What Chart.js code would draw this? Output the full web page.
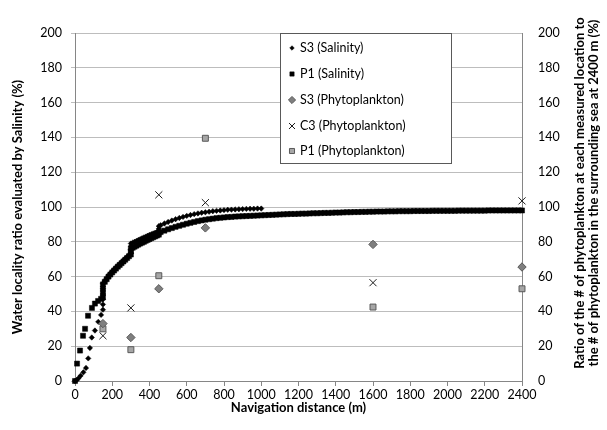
<!DOCTYPE html>
<html><head><meta charset="utf-8">
<style>html,body{margin:0;padding:0;background:#fff}#wrap{width:607px;height:430px}</style>
<script src="https://cdn.jsdelivr.net/npm/chart.js"></script>
</head><body><div id="wrap"><canvas id="c" width="607" height="430"></canvas></div>
<script>
// ---- data ----
const salS3X = [0,9,18,30,45,59,71,80,90,107,125,140,150,150,150,150,150,150,
  160,170,180,190,200,210,220,230,240,250,260,270,280,290,300,300,300,300,
  310,320,330,340,350,360,370,380,390,400,410,420,430,440,450,450,450,
  460,480,500,520,540,560,580,600,620,640,660,680,700,720,740,760,780,800,
  820,840,860,880,900,920,940,960,980,1000];
const salS3Y = [0,0.5,1.5,3,5,7.5,13,19,25,29,34,38,41,44,47,50,53,56,
  57.5,59,60.5,61.8,63,64.1,65.2,66.3,67.3,68.3,69.3,70.3,71.3,72.3,73.3,75.5,77.5,79,
  79.5,80,80.5,81,81.5,82,82.5,83,83.5,84,84.4,84.8,85.2,85.6,86,87.5,89,
  89.5,90.5,91.4,92.2,93,93.7,94.3,94.9,95.4,95.9,96.3,96.7,97,97.3,97.6,97.8,98,98.2,
  98.4,98.5,98.6,98.7,98.8,98.9,99,99,99.1,99.1];

const salP1X = [0,11,27,43,54,70,91,107,124,140,150,150,150,150,
  160,170,180,190,200,210,220,230,240,250,260,270,280,290,300,300,300,
  310,320,330,340,350,360,370,380,390,400,410,420,430,440,450,450,
  460,480,500,520,540,560,580,600,620,640,660,680,700,720,740,760,780,800,
  820,840,860,880,900,920,940,960,980,1000,
  1020,1040,1060,1080,1100,1120,1140,1160,1180,1200,1220,1240,1260,1280,1300,
  1320,1340,1360,1380,1400,1420,1440,1460,1480,1500,1520,1540,1560,1580,1600,
  1620,1640,1660,1680,1700,1720,1740,1760,1780,1800,1820,1840,1860,1880,1900,
  1920,1940,1960,1980,2000,2020,2040,2060,2080,2100,2120,2140,2160,2180,2200,
  2220,2240,2260,2280,2300,2320,2340,2360,2380,2400];
const salP1Y = [0,10,17.5,26,30,37.5,42,44.5,46,47.2,48,50.5,53,55.5,
  57,58.5,60,61.2,62.4,63.5,64.6,65.7,66.7,67.7,68.7,69.7,70.7,71.7,72.7,74.5,76,
  76.6,77.2,77.8,78.4,79,79.5,80,80.6,81.1,81.6,82.1,82.6,83.1,83.6,84.1,85.2,
  85.6,86.4,87.2,87.9,88.6,89.2,89.8,90.4,90.9,91.4,91.9,92.3,92.7,93,93.3,93.6,93.8,94,
  94.2,94.3,94.5,94.6,94.7,94.8,94.9,95,95.1,95.2,
  95.3,95.4,95.5,95.6,95.7,95.8,95.9,96,96,96.1,96.2,96.2,96.3,96.4,96.4,
  96.5,96.6,96.6,96.7,96.8,96.8,96.9,97,97,97.1,97.1,97.2,97.2,97.3,97.3,
  97.4,97.4,97.4,97.5,97.5,97.5,97.6,97.6,97.6,97.6,97.7,97.7,97.7,97.7,97.7,
  97.8,97.8,97.8,97.8,97.8,97.8,97.8,97.9,97.9,97.9,97.9,97.9,97.9,97.9,97.9,
  98,98,98,98,98,98,98,98,98,98];

const phytoX  = [150, 300, 450, 700, 1600, 2400];
const phytoS3 = [33, 25, 53, 88, 78.5, 65.5];
const phytoC3 = [26, 42, 107, 102.5, 56.5, 103.5];
const phytoP1 = [30, 18, 60.5, 139.5, 42.5, 53];

const seriesNames = ['S3 (Salinity)', 'P1 (Salinity)', 'S3 (Phytoplankton)', 'C3 (Phytoplankton)', 'P1 (Phytoplankton)'];
const xTickValues = [0,200,400,600,800,1000,1200,1400,1600,1800,2000,2200,2400];
const yTickValues = [0,20,40,60,80,100,120,140,160,180,200];
const leftTitle = 'Water locality ratio evaluated by Salinity (%)';
const rightTitle = ['Ratio of the # of phytoplankton at each measured location to',
                    'the # of phytoplankton in the surrounding sea at 2400 m (%)'];
const bottomTitle = 'Navigation distance (m)';

// ---- build ----
const FONT = 'Lato, "Open Sans", sans-serif';
const pts = (xs, ys) => xs.map((x, i) => ({x, y: ys[i]}));

const styles = [
  {pointStyle:'rectRot', radius:2.7, bg:'#000', bc:'#000', bw:0.5},
  {pointStyle:'rect', radius:3.6, bg:'#000', bc:'#000', bw:0.5},
  {pointStyle:'rectRot', radius:4.2, bg:'#7f7f7f', bc:'#595959', bw:1},
  {pointStyle:'crossRot', radius:5, bg:'#000', bc:'#1a1a1a', bw:1},
  {pointStyle:'rect', radius:4.2, bg:'#a6a6a6', bc:'#595959', bw:1}
];
const dataSets = [pts(salS3X, salS3Y), pts(salP1X, salP1Y), pts(phytoX, phytoS3), pts(phytoX, phytoC3), pts(phytoX, phytoP1)];
const axisIds = ['y','y','y2','y2','y2'];
const orders = [2,1,0,0,0];

const datasets = dataSets.map((d, i) => ({
  label: seriesNames[i], data: d, yAxisID: axisIds[i], showLine:false, clip:false, order: orders[i],
  pointStyle: styles[i].pointStyle, pointRadius: styles[i].radius, pointHoverRadius: styles[i].radius,
  backgroundColor: styles[i].bg, borderColor: styles[i].bc, pointBorderWidth: styles[i].bw
}));

const legendBox = {
  id:'legendBox',
  afterDraw(chart){
    const ctx = chart.ctx;
    const x0 = 280.5, y0 = 33.5, w = 171, h = 130;
    ctx.save();
    ctx.fillStyle = '#fff'; ctx.fillRect(x0, y0, w, h);
    ctx.strokeStyle = '#595959'; ctx.lineWidth = 1; ctx.strokeRect(x0, y0, w, h);
    const rows = [48, 74, 100, 126, 151];
    ctx.font = '12.5px ' + FONT; ctx.textBaseline = 'middle'; ctx.textAlign = 'left'; ctx.fillStyle = '#000';
    rows.forEach((ry, i) => {
      const st = styles[i];
      const r = i < 2 ? st.radius * 0.85 : st.radius * 0.85;
      ctx.fillStyle = st.bg; ctx.strokeStyle = st.bc; ctx.lineWidth = st.bw;
      Chart.helpers.drawPoint(ctx, {pointStyle: st.pointStyle, radius: r, borderWidth: st.bw}, 292, ry);
      ctx.fillStyle = '#000';
      ctx.fillText(seriesNames[i], 300, ry);
    });
    ctx.restore();
  }
};
const rightTitlePlugin = {
  id:'rightTitle',
  afterDraw(chart){
    const ctx = chart.ctx;
    ctx.save();
    ctx.font = 'bold 13px ' + FONT; ctx.fillStyle = '#000';
    ctx.textAlign = 'center'; ctx.textBaseline = 'middle';
    const cxs = [579.5, 594];
    rightTitle.forEach((t, i) => {
      ctx.save(); ctx.translate(cxs[i], 193); ctx.rotate(-Math.PI/2); ctx.fillText(t, 0, 0); ctx.restore();
    });
    ctx.restore();
  }
};

new Chart(document.getElementById('c'), {
  type:'scatter',
  data:{datasets},
  options:{
    responsive:false, animation:false, devicePixelRatio:1,
    layout:{padding:{top:33,left:0,right:0,bottom:0}},
    plugins:{legend:{display:false}, tooltip:{enabled:false}},
    scales:{
      x:{
        type:'linear', min:0, max:2400,
        afterBuildTicks(s){ s.ticks = xTickValues.map(v => ({value:v})); },
        afterFit(s){ s.height = 49; },
        grid:{display:true, drawOnChartArea:false, drawTicks:true, tickLength:5, color:'#868686'},
        border:{display:true, color:'#868686'},
        ticks:{color:'#000', font:{family:FONT, size:12.5}, padding:1, maxRotation:0, autoSkip:false, callback:v => String(v)},
        title:{display:true, text:bottomTitle, color:'#000', font:{family:FONT, size:13, weight:'bold'}, padding:{top:0,bottom:14}}
      },
      y:{
        type:'linear', position:'left', min:0, max:200,
        afterBuildTicks(s){ s.ticks = yTickValues.map(v => ({value:v})); },
        afterFit(s){ s.width = 75; },
        grid:{color:'#bdbdbd', tickLength:4, drawTicks:true},
        border:{display:true, color:'#868686'},
        ticks:{color:'#000', font:{family:FONT, size:12.5}, padding:9, callback:v => String(v)},
        title:{display:true, text:leftTitle, color:'#000', font:{family:FONT, size:13, weight:'bold'}, padding:{top:10,bottom:0}}
      },
      y2:{
        type:'linear', position:'right', min:0, max:200,
        afterBuildTicks(s){ s.ticks = yTickValues.map(v => ({value:v})); },
        afterFit(s){ s.width = 85; },
        grid:{display:false},
        border:{display:true, color:'#868686'},
        ticks:{color:'#000', font:{family:FONT, size:12.5}, padding:8, callback:v => String(v)}
      }
    }
  },
  plugins:[legendBox, rightTitlePlugin]
});
</script></body></html>
